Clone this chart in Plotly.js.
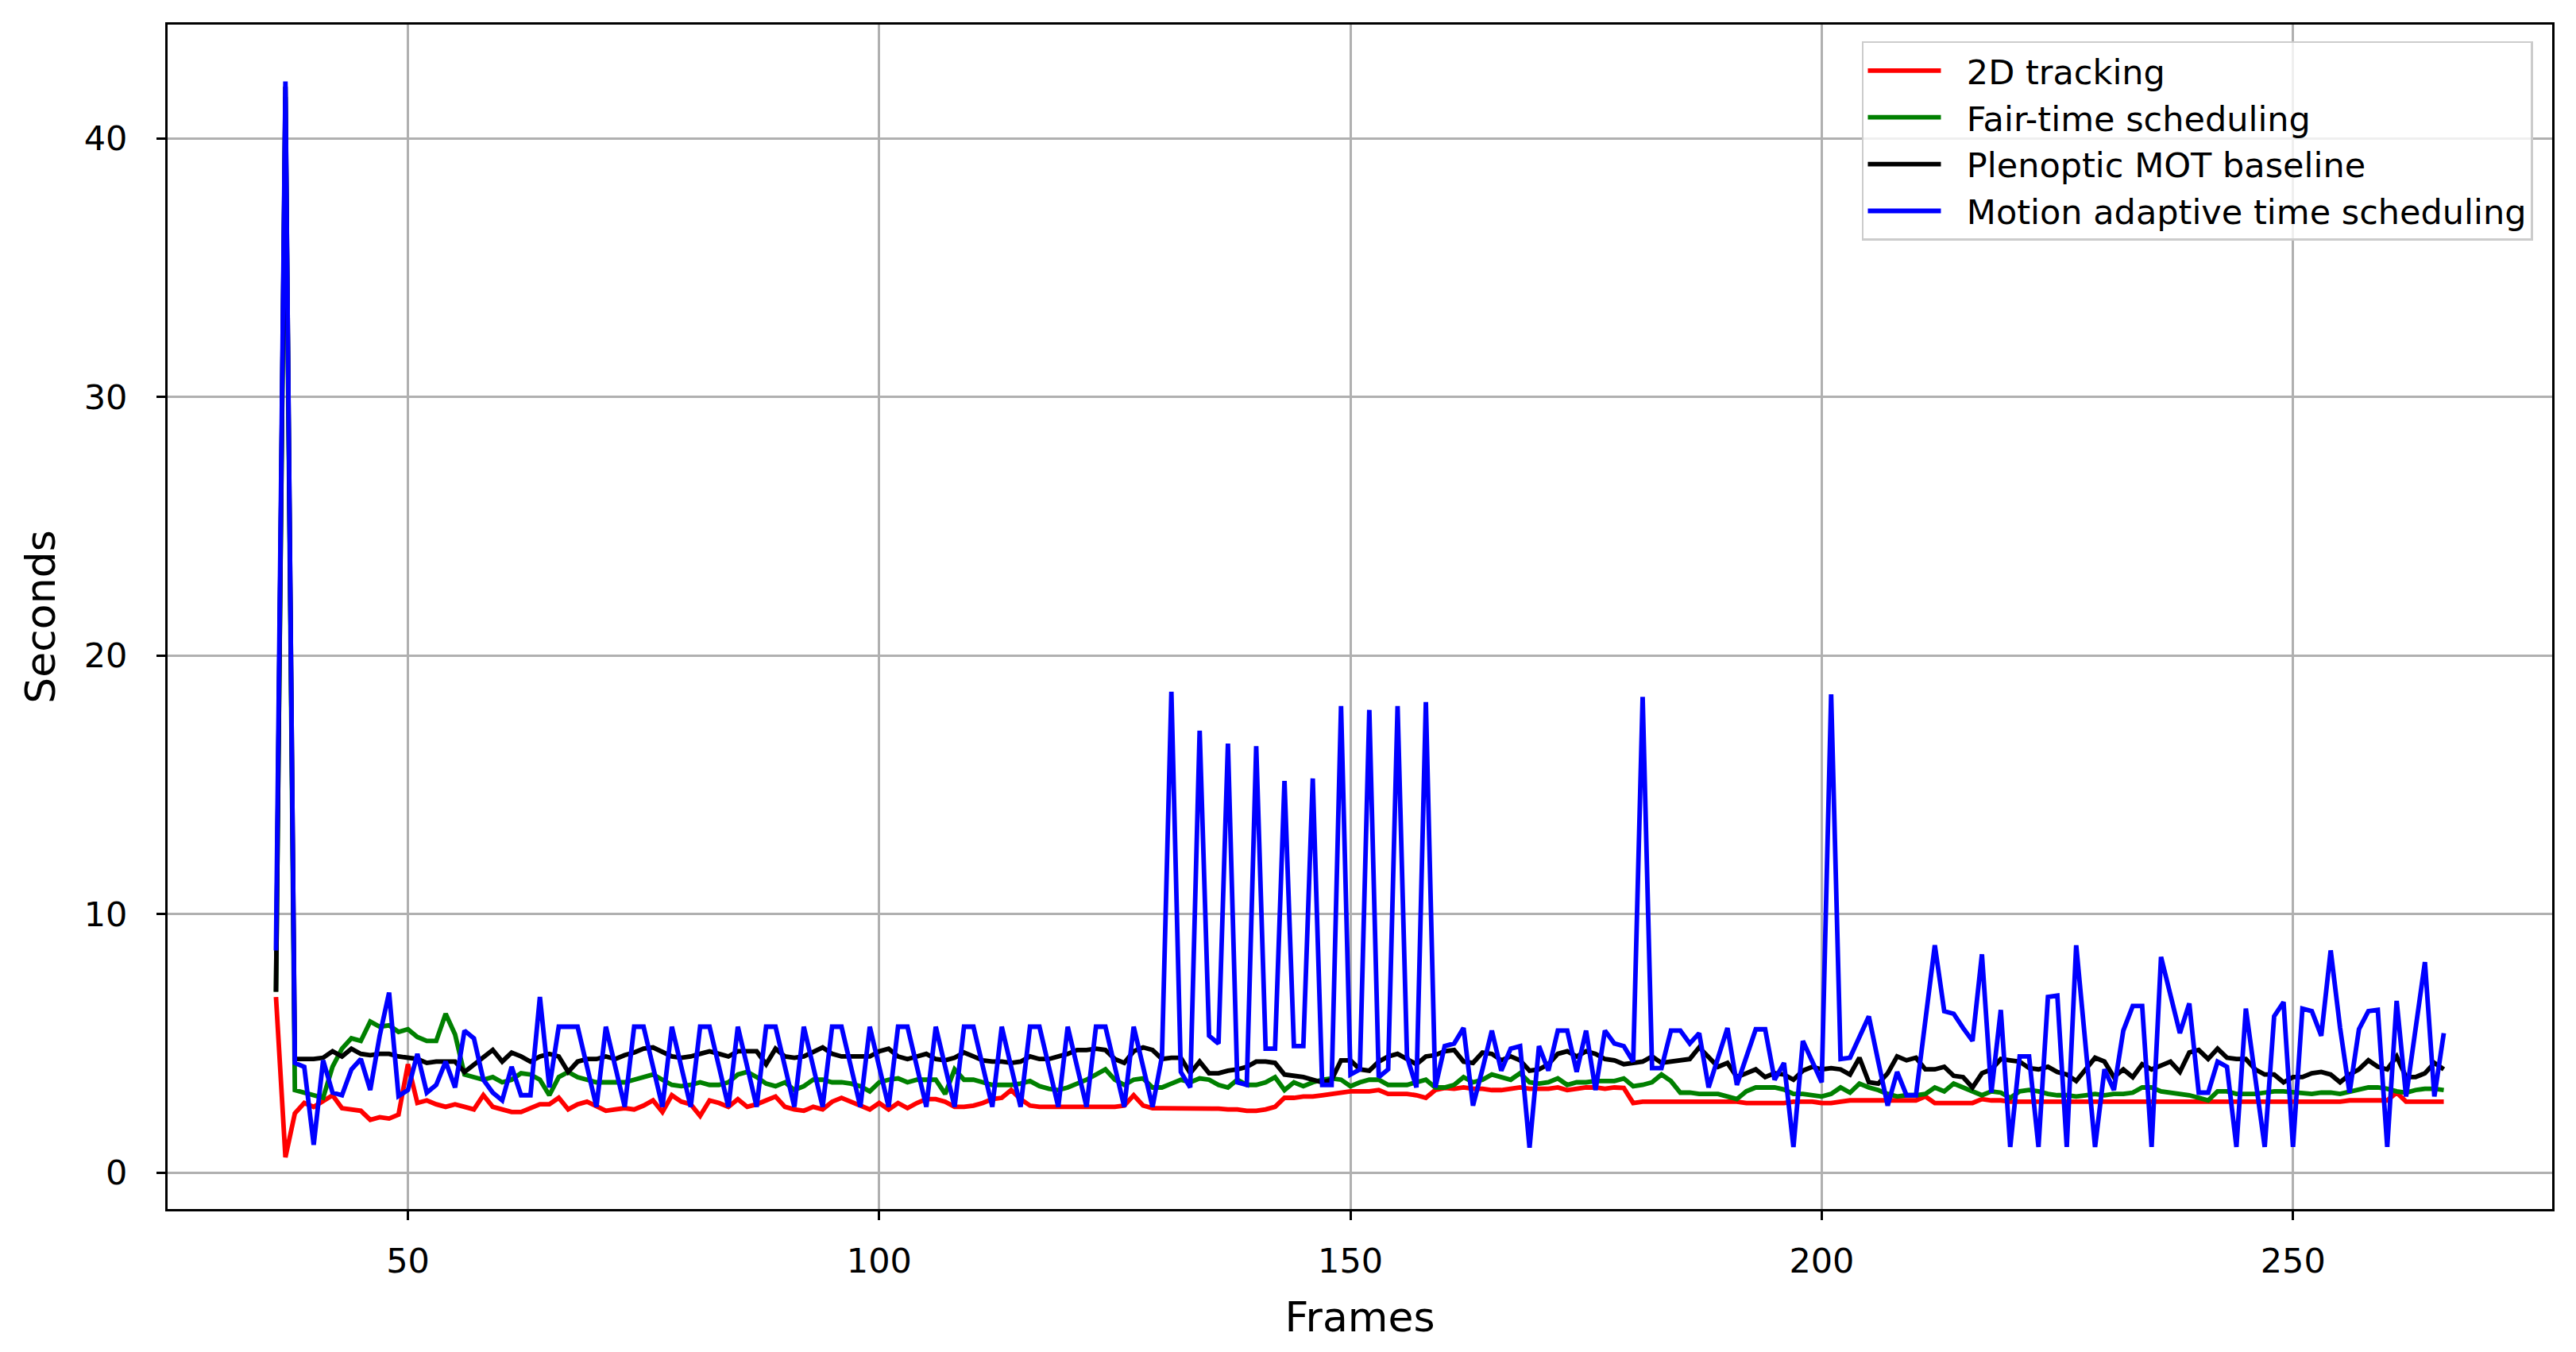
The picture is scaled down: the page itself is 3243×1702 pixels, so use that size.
<!DOCTYPE html>
<html>
<head>
<meta charset="utf-8">
<script src="https://cdn.plot.ly/plotly-3.0.1.min.js"></script>
<style>
  html, body { margin: 0; padding: 0; background: #ffffff; }
  #chart { width: 3243px; height: 1702px; }
</style>
</head>
<body>
<div id="chart"></div>
<script>
// Frame numbers (x values)
const frames = [
  36, 37, 38, 39, 40, 41, 42, 43, 44, 45,
  46, 47, 48, 49, 50, 51, 52, 53, 54, 55,
  56, 57, 58, 59, 60, 61, 62, 63, 64, 65,
  66, 67, 68, 69, 70, 71, 72, 73, 74, 75,
  76, 77, 78, 79, 80, 81, 82, 83, 84, 85,
  86, 87, 88, 89, 90, 91, 92, 93, 94, 95,
  96, 97, 98, 99, 100, 101, 102, 103, 104, 105,
  106, 107, 108, 109, 110, 111, 112, 113, 114, 115,
  116, 117, 118, 119, 120, 121, 122, 123, 124, 125,
  126, 127, 128, 129, 130, 131, 132, 133, 134, 135,
  136, 137, 138, 139, 140, 141, 142, 143, 144, 145,
  146, 147, 148, 149, 150, 151, 152, 153, 154, 155,
  156, 157, 158, 159, 160, 161, 162, 163, 164, 165,
  166, 167, 168, 169, 170, 171, 172, 173, 174, 175,
  176, 177, 178, 179, 180, 181, 182, 183, 184, 185,
  186, 187, 188, 189, 190, 191, 192, 193, 194, 195,
  196, 197, 198, 199, 200, 201, 202, 203, 204, 205,
  206, 207, 208, 209, 210, 211, 212, 213, 214, 215,
  216, 217, 218, 219, 220, 221, 222, 223, 224, 225,
  226, 227, 228, 229, 230, 231, 232, 233, 234, 235,
  236, 237, 238, 239, 240, 241, 242, 243, 244, 245,
  246, 247, 248, 249, 250, 251, 252, 253, 254, 255,
  256, 257, 258, 259, 260, 261, 262, 263, 264, 265,
  266
];

// 2D tracking (seconds)
const tracking2D = [
  6.8, 0.6, 2.3, 2.7, 2.55, 2.75, 3.0, 2.5, 2.45, 2.4,
  2.05, 2.15, 2.1, 2.25, 4.2, 2.7, 2.8, 2.65, 2.55, 2.65,
  2.55, 2.45, 3.0, 2.55, 2.45, 2.35, 2.35, 2.5, 2.65, 2.65,
  2.9, 2.45, 2.65, 2.75, 2.55, 2.4, 2.45, 2.5, 2.45, 2.6,
  2.8, 2.35, 3.0, 2.75, 2.65, 2.2, 2.8, 2.7, 2.55, 2.85,
  2.55, 2.65, 2.8, 2.95, 2.55, 2.45, 2.4, 2.55, 2.45, 2.75,
  2.9, 2.75, 2.6, 2.45, 2.7, 2.45, 2.7, 2.5, 2.7, 2.85,
  2.85, 2.75, 2.55, 2.55, 2.6, 2.7, 2.85, 2.9, 3.2, 2.85,
  2.6, 2.55, 2.55, 2.55, 2.55, 2.55, 2.55, 2.55, 2.55, 2.55,
  2.6, 3.0, 2.6, 2.5, 2.5, 2.5, 2.5, 2.5, 2.5, 2.5,
  2.48, 2.45, 2.45, 2.4, 2.4, 2.45, 2.55, 2.9, 2.9, 2.95,
  2.95, 3.0, 3.05, 3.1, 3.15, 3.15, 3.15, 3.2, 3.05, 3.05,
  3.05, 3.0, 2.9, 3.2, 3.28, 3.25, 3.3, 3.25, 3.25, 3.2,
  3.2, 3.25, 3.3, 3.25, 3.25, 3.25, 3.3, 3.2, 3.25, 3.3,
  3.3, 3.25, 3.3, 3.28, 2.7, 2.75, 2.75, 2.75, 2.75, 2.75,
  2.75, 2.75, 2.75, 2.75, 2.75, 2.75, 2.7, 2.7, 2.7, 2.7,
  2.7, 2.75, 2.75, 2.75, 2.7, 2.7, 2.75, 2.8, 2.8, 2.8,
  2.8, 2.8, 2.8, 2.8, 2.8, 2.95, 2.7, 2.7, 2.7, 2.7,
  2.7, 2.85, 2.8, 2.8, 2.75, 2.75, 2.75, 2.75, 2.75, 2.75,
  2.75, 2.75, 2.75, 2.75, 2.75, 2.75, 2.75, 2.75, 2.75, 2.75,
  2.75, 2.75, 2.75, 2.75, 2.75, 2.75, 2.75, 2.75, 2.75, 2.75,
  2.75, 2.75, 2.75, 2.75, 2.75, 2.75, 2.75, 2.75, 2.75, 2.75,
  2.8, 2.8, 2.8, 2.8, 2.8, 3.1, 2.75, 2.75, 2.75, 2.75,
  2.75
];

// Fair-time scheduling (seconds)
const fairTime = [
  7.0, 41.6, 3.2, 3.1, 3.0, 2.9, 4.1, 4.8, 5.2, 5.1,
  5.85, 5.65, 5.7, 5.45, 5.55, 5.25, 5.1, 5.1, 6.15, 5.35,
  3.8, 3.7, 3.6, 3.7, 3.5, 3.6, 3.85, 3.8, 3.6, 3.0,
  3.7, 3.9, 3.7, 3.6, 3.5, 3.5, 3.5, 3.5, 3.6, 3.7,
  3.8, 3.6, 3.4, 3.35, 3.4, 3.5, 3.4, 3.4, 3.5, 3.8,
  3.9, 3.7, 3.45, 3.35, 3.5, 3.2, 3.35, 3.6, 3.6, 3.5,
  3.5, 3.45, 3.35, 3.15, 3.5, 3.6, 3.65, 3.5, 3.6, 3.6,
  3.6, 3.05, 4.0, 3.6, 3.6, 3.5, 3.4, 3.4, 3.4, 3.45,
  3.55, 3.35, 3.25, 3.2, 3.3, 3.45, 3.6, 3.8, 4.0, 3.6,
  3.4, 3.6, 3.65, 3.3, 3.3, 3.45, 3.6, 3.5, 3.65, 3.6,
  3.4, 3.3, 3.6, 3.4, 3.4, 3.5, 3.7, 3.2, 3.5, 3.35,
  3.5, 3.6, 3.65, 3.6, 3.35, 3.5, 3.6, 3.6, 3.4, 3.4,
  3.4, 3.5, 3.6, 3.3, 3.3, 3.4, 3.7, 3.5, 3.6, 3.8,
  3.7, 3.6, 3.85, 3.5, 3.45, 3.5, 3.65, 3.4, 3.5, 3.5,
  3.55, 3.55, 3.55, 3.65, 3.35, 3.4, 3.5, 3.8, 3.55, 3.1,
  3.1, 3.05, 3.05, 3.05, 2.95, 2.85, 3.15, 3.3, 3.3, 3.3,
  3.22, 3.05, 3.05, 3.0, 2.95, 3.05, 3.3, 3.1, 3.45, 3.3,
  3.2, 3.05, 2.95, 3.0, 3.0, 3.05, 3.3, 3.15, 3.45, 3.3,
  3.15, 3.0, 3.15, 3.1, 2.9, 3.15, 3.2, 3.15, 3.05, 3.0,
  3.0, 2.95, 3.0, 3.05, 3.0, 3.05, 3.05, 3.1, 3.3, 3.3,
  3.15, 3.1, 3.05, 3.0, 2.9, 2.8, 3.15, 3.15, 3.05, 3.05,
  3.05, 3.1, 3.15, 3.15, 3.12, 3.1, 3.05, 3.1, 3.1, 3.05,
  3.12, 3.2, 3.3, 3.3, 3.25, 3.15, 3.1, 3.2, 3.25, 3.25,
  3.2
];

// Plenoptic MOT baseline (seconds)
const plenopticMOT = [
  7.0, 42.0, 4.4, 4.4, 4.4, 4.45, 4.7, 4.5, 4.8, 4.6,
  4.55, 4.6, 4.6, 4.5, 4.45, 4.4, 4.25, 4.3, 4.3, 4.3,
  3.9, 4.2, 4.5, 4.75, 4.3, 4.65, 4.5, 4.3, 4.5, 4.6,
  4.5, 3.9, 4.3, 4.4, 4.4, 4.5, 4.4, 4.55, 4.65, 4.8,
  4.85, 4.65, 4.5, 4.45, 4.5, 4.6, 4.7, 4.6, 4.5, 4.7,
  4.7, 4.7, 4.2, 4.8, 4.5, 4.45, 4.5, 4.7, 4.85, 4.6,
  4.5, 4.5, 4.5, 4.5, 4.7, 4.8, 4.5, 4.4, 4.5, 4.6,
  4.4, 4.35, 4.45, 4.65, 4.5, 4.35, 4.3, 4.3, 4.25, 4.3,
  4.5, 4.4, 4.4, 4.5, 4.6, 4.75, 4.75, 4.8, 4.75, 4.4,
  4.25, 4.7, 4.85, 4.75, 4.4, 4.45, 4.45, 3.85, 4.3, 3.85,
  3.85, 3.95, 4.0, 4.1, 4.3, 4.3, 4.25, 3.8, 3.75, 3.7,
  3.6, 3.5, 3.6, 4.35, 4.35, 4.0, 3.95, 4.3, 4.5, 4.6,
  4.4, 4.2, 4.5, 4.55, 4.7, 4.75, 4.3, 4.25, 4.65, 4.6,
  4.35, 4.5, 4.35, 3.95, 4.0, 4.2, 4.6, 4.7, 4.5, 4.7,
  4.6, 4.4, 4.35, 4.2, 4.25, 4.3, 4.5, 4.25, 4.3, 4.35,
  4.4, 4.85, 4.5, 4.1, 4.25, 3.7, 3.85, 4.0, 3.7, 3.85,
  3.8, 3.6, 3.95, 4.1, 4.0, 4.05, 4.0, 3.8, 4.45, 3.5,
  3.45, 3.85, 4.5, 4.35, 4.45, 4.0, 4.0, 4.1, 3.75, 3.7,
  3.3, 3.85, 4.0, 4.4, 4.35, 4.3, 4.05, 4.0, 4.1, 3.9,
  3.8, 3.55, 4.0, 4.45, 4.3, 3.7, 4.0, 3.7, 4.2, 4.0,
  4.15, 4.3, 3.9, 4.65, 4.75, 4.4, 4.8, 4.45, 4.4, 4.4,
  4.0, 3.8, 3.8, 3.5, 3.7, 3.7, 3.85, 3.9, 3.8, 3.5,
  3.8, 4.0, 4.35, 4.1, 4.0, 4.5, 3.7, 3.7, 3.85, 4.25,
  4.0
];

// Motion adaptive time scheduling (seconds)
const motionAdaptive = [
  8.6, 42.2, 4.25, 4.1, 1.08, 4.35, 3.1, 3.0, 4.0, 4.4,
  3.2, 5.3, 6.97, 2.97, 3.2, 4.6, 3.1, 3.4, 4.3, 3.3,
  5.5, 5.2, 3.6, 3.1, 2.8, 4.1, 3.0, 3.0, 6.8, 3.3,
  5.65, 5.65, 5.65, 4.1, 2.55, 5.65, 4.1, 2.55, 5.65, 5.65,
  4.1, 2.55, 5.65, 4.1, 2.55, 5.65, 5.65, 4.1, 2.55, 5.65,
  4.1, 2.55, 5.65, 5.65, 4.1, 2.55, 5.65, 4.1, 2.55, 5.65,
  5.65, 4.1, 2.55, 5.65, 4.1, 2.55, 5.65, 5.65, 4.1, 2.55,
  5.65, 4.1, 2.55, 5.65, 5.65, 4.1, 2.55, 5.65, 4.1, 2.55,
  5.65, 5.65, 4.1, 2.55, 5.65, 4.1, 2.55, 5.65, 5.65, 4.1,
  2.55, 5.65, 4.1, 2.55, 4.5, 18.6, 3.9, 3.3, 17.1, 5.3,
  5.0, 16.6, 3.5, 3.4, 16.5, 4.8, 4.8, 15.15, 4.9, 4.9,
  15.25, 3.4, 3.4, 18.05, 3.8, 4.0, 17.9, 3.7, 4.0, 18.05,
  4.5, 3.3, 18.2, 3.3, 4.9, 5.0, 5.6, 2.6, 4.0, 5.5,
  3.95, 4.8, 4.9, 0.97, 4.9, 3.95, 5.5, 5.5, 3.9, 5.5,
  3.2, 5.5, 5.0, 4.9, 4.3, 18.4, 4.05, 4.05, 5.5, 5.5,
  5.0, 5.4, 3.3, 4.5, 5.6, 3.4, 4.5, 5.55, 5.55, 3.6,
  4.25, 1.0, 5.1, 4.3, 3.5, 18.5, 4.4, 4.45, 5.3, 6.05,
  4.3, 2.6, 3.9, 3.0, 3.0, 6.0, 8.8, 6.25, 6.15, 5.6,
  5.1, 8.45, 3.1, 6.3, 1.0, 4.5, 4.5, 1.0, 6.8, 6.85,
  1.0, 8.8, 5.0, 1.0, 4.0, 3.2, 5.5, 6.45, 6.45, 1.0,
  8.35, 6.8, 5.4, 6.55, 3.1, 3.1, 4.3, 4.1, 1.0, 6.35,
  3.7, 1.0, 6.05, 6.6, 1.0, 6.35, 6.25, 5.3, 8.6, 5.6,
  3.1, 5.55, 6.25, 6.3, 1.0, 6.65, 2.95, 5.5, 8.15, 2.95,
  5.4
];

const seriesNames = [
  '2D tracking',
  'Fair-time scheduling',
  'Plenoptic MOT baseline',
  'Motion adaptive time scheduling'
];
const seriesColors = ['#ff0000', '#008000', '#000000', '#0000ff'];
const seriesValues = [tracking2D, fairTime, plenopticMOT, motionAdaptive];

const xTickVals = [50, 100, 150, 200, 250];
const yTickVals = [0, 10, 20, 30, 40];

// small gap between the legend line sample and its label, as in the original
const legendGap = '\u00a0\u00a0';

const traces = seriesValues.map((vals, i) => ({
  type: 'scatter',
  mode: 'lines',
  x: frames,
  y: vals,
  name: legendGap + seriesNames[i],
  line: { color: seriesColors[i], width: 5.8 },
  hoverinfo: 'skip'
}));

const axisCommon = {
  showgrid: true,
  gridcolor: '#b0b0b0',
  gridwidth: 3,
  zeroline: false,
  showline: true,
  mirror: true,
  linecolor: '#000000',
  linewidth: 3,
  ticks: 'outside',
  ticklen: 11,
  tickwidth: 3,
  tickcolor: '#000000',
  tickfont: { family: 'DejaVu Sans', size: 43, color: '#000000' }
};

const layout = {
  width: 3243,
  height: 1702,
  margin: { l: 211, r: 30, t: 31, b: 180 },
  paper_bgcolor: '#ffffff',
  plot_bgcolor: '#ffffff',
  font: { family: 'DejaVu Sans', color: '#000000' },
  showlegend: true,
  xaxis: Object.assign({}, axisCommon, {
    range: [24.5, 277.5],
    tickvals: xTickVals,
    ticklabelstandoff: 14,
    title: { text: 'Frames', font: { family: 'DejaVu Sans', size: 52, color: '#000000' }, standoff: 30 }
  }),
  yaxis: Object.assign({}, axisCommon, {
    range: [-1.4, 44.4],
    tickvals: yTickVals,
    ticklabelstandoff: 28,
    title: { text: 'Seconds', font: { family: 'DejaVu Sans', size: 52, color: '#000000' }, standoff: 20 }
  }),
  legend: {
    x: 0.992,
    xanchor: 'right',
    y: 0.986,
    yanchor: 'top',
    bgcolor: 'rgba(255,255,255,0.8)',
    bordercolor: '#cccccc',
    borderwidth: 2.5,
    font: { family: 'DejaVu Sans', size: 43, color: '#000000' },
    itemwidth: 92,
    tracegroupgap: 0
  }
};

Plotly.newPlot('chart', traces, layout, { staticPlot: true, displayModeBar: false });
</script>
</body>
</html>
